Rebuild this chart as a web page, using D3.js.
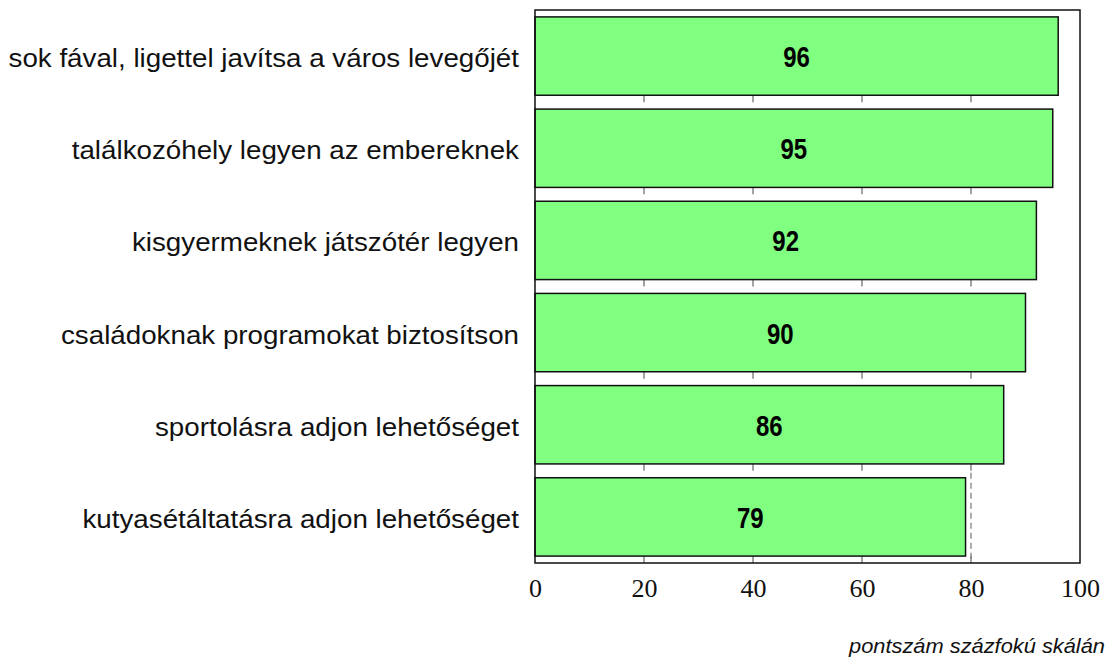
<!DOCTYPE html>
<html>
<head>
<meta charset="utf-8">
<script src="https://cdn.jsdelivr.net/npm/d3@7"></script>
<style>
  body { margin: 0; background: #fff; }
  svg { display: block; }
</style>
</head>
<body>
<script>
const categories = [
  "sok fával, ligettel javítsa a város levegőjét",
  "találkozóhely legyen az embereknek",
  "kisgyermeknek játszótér legyen",
  "családoknak programokat biztosítson",
  "sportolásra adjon lehetőséget",
  "kutyasétáltatásra adjon lehetőséget"
];
const values = [96, 95, 92, 90, 86, 79];
const xTicks = [0, 20, 40, 60, 80, 100];
const refLine = 80;
const axisTitle = "pontszám százfokú skálán";

const width = 1109, height = 666;
const margin = {top: 10, right: 29, bottom: 103, left: 535};

const svg = d3.select("body").append("svg")
    .attr("width", width)
    .attr("height", height);

const x = d3.scaleLinear()
    .domain([0, 100])
    .range([margin.left, width - margin.right]);

const y = d3.scaleBand()
    .domain(categories)
    .range([margin.top, height - margin.bottom])
    .paddingInner(0.15)
    .paddingOuter(0.075);

// small ticks hanging at each band boundary
const step = y.step();
const boundaries = d3.range(1, categories.length + 1).map(i => margin.top + i * step);
svg.append("g")
    .attr("stroke", "#666")
    .attr("stroke-width", 1.2)
  .selectAll("line")
  .data(boundaries.flatMap(b => xTicks.slice(1, -1).map(t => ({b, t}))))
  .join("line")
    .attr("x1", d => x(d.t))
    .attr("x2", d => x(d.t))
    .attr("y1", d => d.b - 7)
    .attr("y2", d => d.b);

// dashed line at 80 in the last band
svg.append("line")
    .attr("x1", x(refLine))
    .attr("x2", x(refLine))
    .attr("y1", margin.top + (categories.length - 1) * step + 2)
    .attr("y2", height - margin.bottom)
    .attr("stroke", "#777")
    .attr("stroke-width", 1.2)
    .attr("stroke-dasharray", "6,4");

// bars
svg.append("g")
  .selectAll("rect")
  .data(values)
  .join("rect")
    .attr("x", x(0))
    .attr("y", (d, i) => y(categories[i]))
    .attr("width", d => x(d) - x(0))
    .attr("height", y.bandwidth())
    .attr("fill", "#80ff80")
    .attr("stroke", "#111")
    .attr("stroke-width", 1.5);

// value labels (narrow bold)
svg.append("g")
  .selectAll("text")
  .data(values)
  .join("text")
    .attr("transform", (d, i) =>
      `translate(${(x(0) + x(d)) / 2},${y(categories[i]) + y.bandwidth() / 2 + 11}) scale(0.8,1)`)
    .attr("text-anchor", "middle")
    .attr("font-family", "'Liberation Sans', Arial, sans-serif")
    .attr("font-weight", "bold")
    .attr("font-size", 30)
    .attr("fill", "#000")
    .text(d => d);

// frame
svg.append("rect")
    .attr("x", margin.left)
    .attr("y", margin.top)
    .attr("width", width - margin.left - margin.right)
    .attr("height", height - margin.top - margin.bottom)
    .attr("fill", "none")
    .attr("stroke", "#111")
    .attr("stroke-width", 1.5);

// category labels
svg.append("g")
  .selectAll("text")
  .data(categories)
  .join("text")
    .attr("transform", d => `translate(${margin.left - 16},${y(d) + y.bandwidth() / 2 + 11}) scale(1.11,1)`)
    .attr("text-anchor", "end")
    .attr("font-family", "'Liberation Sans', Arial, sans-serif")
    .attr("font-size", 25)
    .attr("fill", "#111")
    .text(d => d);

// x axis
svg.append("g")
    .attr("transform", `translate(0,${height - margin.bottom})`)
    .call(d3.axisBottom(x).tickValues(xTicks).tickSize(0).tickPadding(0))
    .call(g => g.select(".domain").remove())
    .call(g => g.selectAll("text")
        .attr("dy", null)
        .attr("y", 34)
        .attr("font-family", "'Liberation Serif', 'Times New Roman', serif")
        .attr("font-size", 26)
        .attr("fill", "#111"));

svg.append("text")
    .attr("transform", `translate(${width - 4},653) scale(1.04,1)`)
    .attr("text-anchor", "end")
    .attr("font-family", "'Liberation Sans', Arial, sans-serif")
    .attr("font-style", "italic")
    .attr("font-size", 21)
    .attr("fill", "#111")
    .text(axisTitle);
</script>
</body>
</html>
